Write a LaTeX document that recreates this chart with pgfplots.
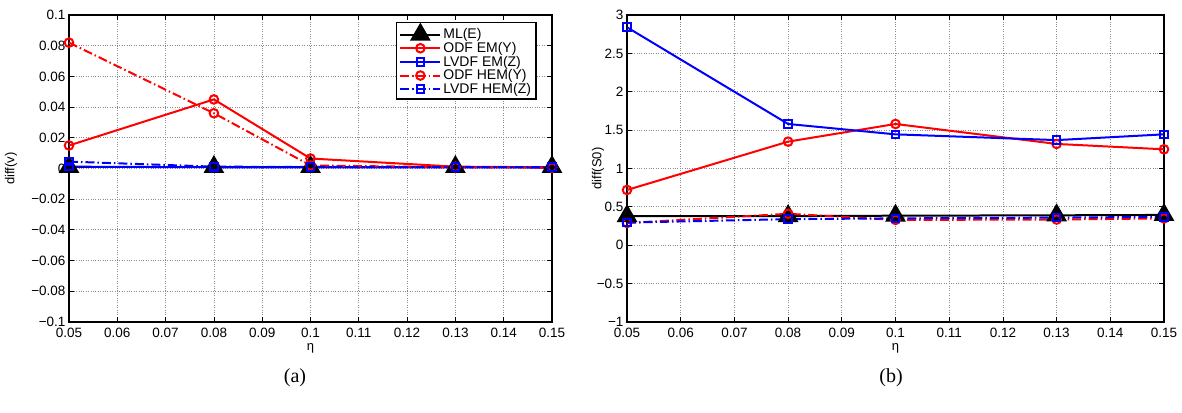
\documentclass[border=0pt]{standalone}
\usepackage{pgfplots}
\pgfplotsset{compat=1.18}
\usepackage{fontspec}
\setmainfont{Liberation Sans}
\newfontfamily\capfont{Liberation Serif}

\pgfplotsset{
  matstyle/.style={
    scale only axis, anchor=south west,
    xmin=0.05, xmax=0.15,
    xtick={0.05,0.06,0.07,0.08,0.09,0.1,0.11,0.12,0.13,0.14,0.15},
    xticklabels={0.05,0.06,0.07,0.08,0.09,0.1,0.11,0.12,0.13,0.14,0.15},
    grid=major,
    grid style={dotted, gray!90, line width=0.8pt},
    tick align=inside, major tick length=5pt,
    tick style={black, line width=0.8pt},
    axis line style={line width=1.1pt},
    ticklabel style={font=\fontsize{13.5}{15}\selectfont},
    xticklabel style={yshift=-3pt},
    label style={font=\fontsize{13}{15}\selectfont},
    xlabel={η},
    xlabel style={at={(axis description cs:0.5,-0.085)}, anchor=center},
    legend image code/.code={
      \draw[mark repeat=2,mark phase=2,#1] plot coordinates {(0pt,0pt) (20pt,0pt) (40pt,0pt)};
    },
  },
  mlE/.style={black, line width=2pt, mark=triangle*, mark size=10pt, mark options={solid}},
  odfEM/.style={red, line width=2pt, mark=o, mark size=4.3pt, mark options={solid}},
  lvdfEM/.style={blue, line width=2pt, mark=square, mark size=3.8pt, mark options={solid}},
  odfHEM/.style={red, line width=2pt, dash pattern=on 9pt off 3pt on 1.5pt off 3pt, mark=o, mark size=4.3pt, mark options={solid}},
  lvdfHEM/.style={blue, line width=2pt, dash pattern=on 9pt off 3pt on 1.5pt off 3pt, mark=square, mark size=3.8pt, mark options={solid}},
}

\begin{document}
\begin{tikzpicture}
\useasboundingbox (0,0) rectangle (1182pt,412pt);

% (a) error in v
\begin{axis}[matstyle,
  at={(69pt,90pt)}, width=483pt, height=307pt,
  ymin=-0.1, ymax=0.1,
  ytick={-0.1,-0.08,-0.06,-0.04,-0.02,0,0.02,0.04,0.06,0.08,0.1},
  yticklabels={−0.1,−0.08,−0.06,−0.04,−0.02,0,0.02,0.04,0.06,0.08,0.1},
  ylabel={diff(v)},
  ylabel style={at={(axis description cs:-0.12,0.5)}, anchor=center},
  legend style={at={(0.968,0.977)}, anchor=north east, draw=black, line width=1.1pt,
    font=\fontsize{14}{15}\selectfont, cells={anchor=west}, row sep=-2pt,
    inner xsep=3pt, inner ysep=2pt},
]
\addplot[mlE] coordinates {(0.05,0.001) (0.08,0.001) (0.1,0.001) (0.13,0.001) (0.15,0.001)};
\addlegendentry{ML(E)}
\addplot[odfEM] coordinates {(0.05,0.015) (0.08,0.045) (0.1,0.0065) (0.13,0.0012) (0.15,0.0008)};
\addlegendentry{ODF EM(Y)}
\addplot[lvdfEM] coordinates {(0.05,0.0012) (0.08,0.0008) (0.1,0.0008) (0.13,0.0008) (0.15,0.0006)};
\addlegendentry{LVDF EM(Z)}
\addplot[odfHEM] coordinates {(0.05,0.082) (0.08,0.036) (0.1,0.002) (0.13,0.0008) (0.15,0.0006)};
\addlegendentry{ODF HEM(Y)}
\addplot[lvdfHEM] coordinates {(0.05,0.0045) (0.08,0.0012) (0.1,0.001) (0.13,0.0009) (0.15,0.0008)};
\addlegendentry{LVDF HEM(Z)}
\end{axis}

% (b) error in S0
\begin{axis}[matstyle,
  at={(627pt,90pt)}, width=537pt, height=307pt,
  ymin=-1, ymax=3,
  ytick={-1,-0.5,0,0.5,1,1.5,2,2.5,3},
  yticklabels={−1,−0.5,0,0.5,1,1.5,2,2.5,3},
  ylabel={diff(S0)},
  ylabel style={at={(axis description cs:-0.054,0.5)}, anchor=center},
]
\addplot[mlE] coordinates {(0.05,0.38) (0.08,0.38) (0.1,0.385) (0.13,0.39) (0.15,0.395)};
\addplot[odfEM] coordinates {(0.05,0.72) (0.08,1.35) (0.1,1.58) (0.13,1.32) (0.15,1.25)};
\addplot[lvdfEM] coordinates {(0.05,2.84) (0.08,1.58) (0.1,1.445) (0.13,1.37) (0.15,1.445)};
\addplot[odfHEM] coordinates {(0.05,0.29) (0.08,0.41) (0.1,0.33) (0.13,0.335) (0.15,0.35)};
\addplot[lvdfHEM] coordinates {(0.05,0.295) (0.08,0.34) (0.1,0.35) (0.13,0.36) (0.15,0.37)};
\end{axis}

\node[font=\capfont\fontsize{20}{22}\selectfont] at (295pt,34pt) {(a)};
\node[font=\capfont\fontsize{20}{22}\selectfont] at (891pt,34pt) {(b)};
\end{tikzpicture}
\end{document}
